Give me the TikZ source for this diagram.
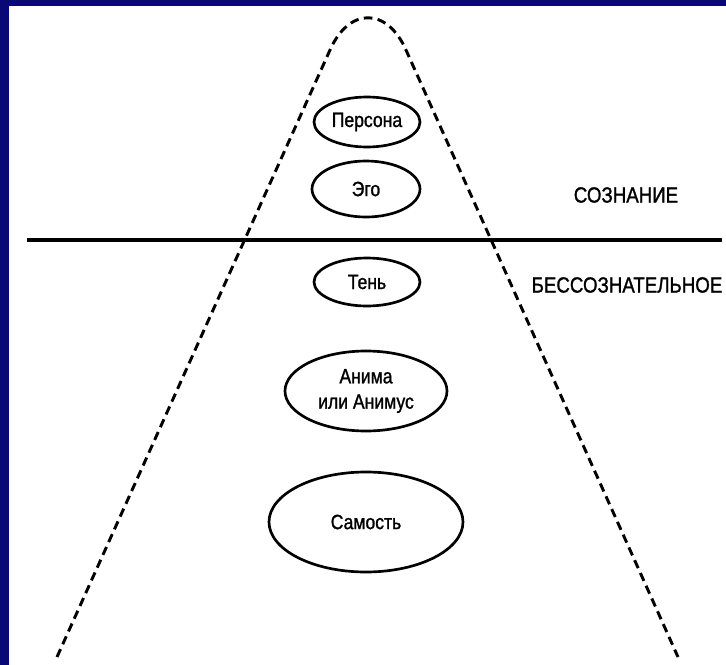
\documentclass[tikz,border=0pt]{standalone}
\usepackage{fontspec}
\setmainfont[FakeStretch=0.85,FakeBold=1.2]{Liberation Sans}
\usetikzlibrary{shapes.geometric}
\definecolor{frameblue}{RGB}{8,8,118}
\tikzset{
  oval/.style={draw=black, line width=2pt, ellipse, inner sep=0pt, align=center,
    font=\fontsize{15.5}{19}\selectfont},
  rim/.style={draw=black, line width=2.2pt, dash pattern=on 6.5pt off 4pt},
  level/.style={font=\fontsize{16.5}{19}\selectfont, inner sep=0pt}
}
\begin{document}
\begin{tikzpicture}[x=0.75pt,y=-0.75pt]
\useasboundingbox (0,0) rectangle (726,665);
\fill[frameblue] (0,0) rectangle (726,665);
\fill[white] (9,6) rectangle (726,665);
% dashed outline
\coordinate (bl) at (57,657);
\coordinate (tl) at (330,50);
\coordinate (tr) at (406,50);
\coordinate (br) at (678,657);
\draw[rim] (bl) -- (tl) .. controls (349,7) and (387,7) .. (tr) -- (br);
% horizontal line
\coordinate (hl) at (27,240);
\coordinate (hr) at (722,240);
\draw[line width=3pt] (hl) -- (hr);
% ovals
\node[oval, minimum width=79.5pt, minimum height=37.5pt] (persona) at (367,122) {Персона};
\node[oval, minimum width=81pt, minimum height=42pt] (ego) at (366,189) {Эго};
\node[oval, minimum width=79.5pt, minimum height=36pt] (shadow) at (367,282) {Тень};
\node[oval, minimum width=121.5pt, minimum height=60pt] (anima) at (366,391) {Анима\\или Анимус};
\node[oval, minimum width=145.5pt, minimum height=75pt] (self) at (366,522) {Самость};
% level labels
\node[level] (conscious) at (626,195) {СОЗНАНИЕ};
\node[level] (unconscious) at (627,285) {БЕССОЗНАТЕЛЬНОЕ};
\end{tikzpicture}
\end{document}
